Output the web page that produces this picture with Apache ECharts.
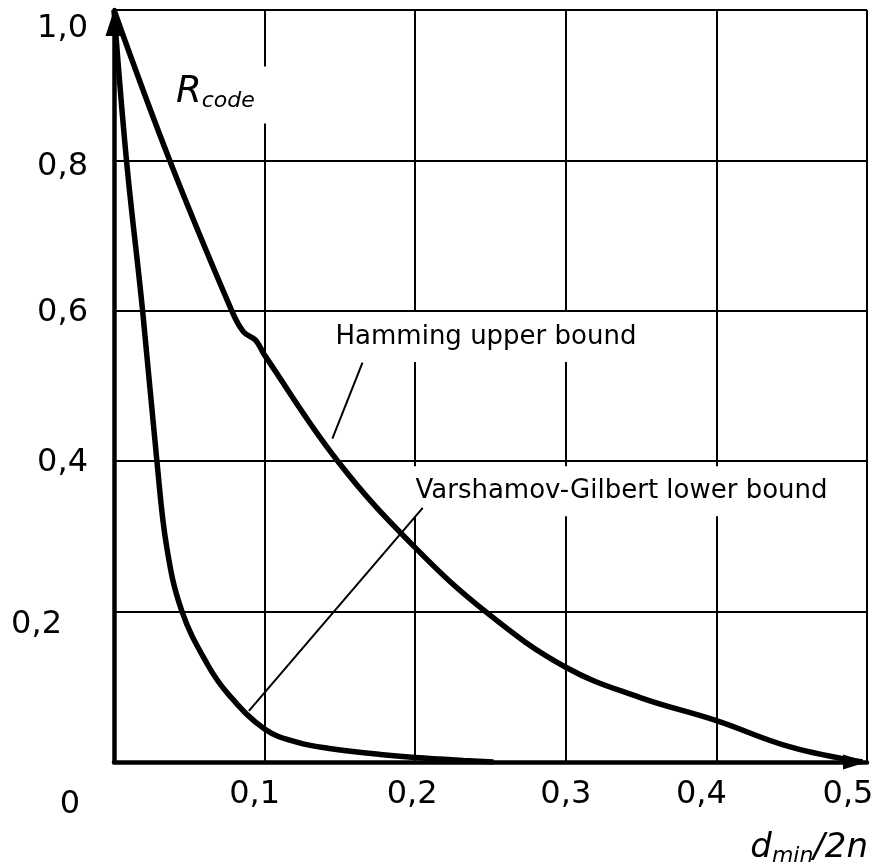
<!DOCTYPE html>
<html>
<head>
<meta charset="utf-8">
<title>Hamming and Varshamov-Gilbert bounds</title>
<script src="https://cdn.jsdelivr.net/npm/echarts@6.0.0/dist/echarts.min.js"></script>
<style>
  html, body { margin: 0; padding: 0; background: #fff; }
  #chart { width: 878px; height: 865px; }
</style>
</head>
<body>
<div id="chart"></div>
<script>
// tick labels, decimal comma as in the original figure
const xTickLabels = ['0', '0,1', '0,2', '0,3', '0,4', '0,5']
const yTickLabels = ['0', '0,2', '0,4', '0,6', '0,8', '1,0']

// Hamming upper bound
const hammingX = [0, 0.037, 0.078, 0.086, 0.094, 0.1, 0.149, 0.2, 0.248, 0.3, 0.349, 0.4, 0.449, 0.497]
const hammingY = [1.0, 0.8, 0.601, 0.572, 0.561, 0.541, 0.399, 0.285, 0.198, 0.126, 0.086, 0.055, 0.02, 0.0]

// Varshamov-Gilbert lower bound
const vgX = [0, 0.0083, 0.019, 0.0285, 0.035, 0.045, 0.062, 0.076, 0.1, 0.122, 0.143, 0.177, 0.2, 0.232, 0.252]
const vgY = [1.0, 0.8, 0.6, 0.4, 0.286, 0.201, 0.13, 0.09, 0.044, 0.026, 0.018, 0.01, 0.006, 0.002, 0.0]

// annotation texts and their leader lines (data coordinates)
const hammingText = 'Hamming upper bound'
const vgText = 'Varshamov-Gilbert lower bound'
const hammingTextAt = [0.247, 0.565]
const vgTextAt = [0.337, 0.36]
const hammingLeader = [[0.165, 0.531], [0.145, 0.43]]
const vgLeader = [[0.205, 0.338], [0.0896, 0.068]]

const zip = (xs, ys) => xs.map((x, i) => [x, ys[i]])

const FONT = 'DejaVu Sans'
const tick = { fontFamily: FONT, fontSize: 32, color: '#000' }

const chart = echarts.init(document.getElementById('chart'))

const option = {
    animation: false,
    grid: { left: 114, right: 11, top: 10, bottom: 103, outerBoundsMode: 'none' },
    xAxis: {
        type: 'value',
        min: 0,
        max: 0.5,
        interval: 0.1,
        axisLine: {
            show: true,
            onZero: false,
            lineStyle: { color: '#000', width: 4.5 },
            symbol: ['none', 'triangle'],
            symbolSize: [15, 24],
            symbolOffset: [0, -12]
        },
        axisTick: { show: false },
        splitLine: { show: true, showMinLine: false, showMaxLine: true, lineStyle: { color: '#000', width: 2 } },
        axisLabel: {
            margin: 17,
            ...tick,
            formatter: (v) => {
                const i = Math.round(v * 10)
                return i === 0 ? '' : `{x${i}|${xTickLabels[i]}}`
            },
            rich: {
                x1: { ...tick, padding: [0, 20, 0, 0] },
                x2: { ...tick, padding: [0, 6, 0, 0] },
                x3: { ...tick },
                x4: { ...tick, padding: [0, 30, 0, 0] },
                x5: { ...tick, padding: [0, 38, 0, 0] }
            }
        },
        name: '{d|d}{s|min}{d|/2n}',
        nameLocation: 'end',
        nameGap: 1,
        nameTextStyle: {
            align: 'right',
            verticalAlign: 'top',
            padding: [67, 0, 0, 0],
            rich: {
                d: { fontFamily: FONT, fontStyle: 'italic', fontSize: 34, color: '#000' },
                s: { fontFamily: FONT, fontStyle: 'italic', fontSize: 22, color: '#000', padding: [16, 0, 0, 0] }
            }
        }
    },
    yAxis: {
        type: 'value',
        min: 0,
        max: 1,
        interval: 0.2,
        axisLine: {
            show: true,
            onZero: false,
            lineStyle: { color: '#000', width: 4.5 },
            symbol: ['none', 'triangle'],
            symbolSize: [17, 26],
            symbolOffset: [0, -13]
        },
        axisTick: { show: false },
        splitLine: { show: true, showMinLine: false, showMaxLine: true, lineStyle: { color: '#000', width: 2 } },
        axisLabel: {
            margin: 26,
            ...tick,
            formatter: (v) => {
                const i = Math.round(v * 5)
                return `{y${i}|${yTickLabels[i]}}`
            },
            rich: {
                y0: { ...tick, padding: [86, 8, 0, 0] },
                y1: { ...tick, padding: [26, 26, 0, 0] },
                y2: { ...tick, padding: [2, 0, 0, 0] },
                y3: { ...tick, padding: [4, 0, 0, 0] },
                y4: { ...tick, padding: [12, 0, 0, 0] },
                y5: { ...tick, padding: [38, 0, 0, 0] }
            }
        },
        name: '{r|R}{s|code}',
        nameLocation: 'end',
        nameGap: -55.5,
        nameTextStyle: {
            align: 'left',
            verticalAlign: 'top',
            padding: [0, 0, 0, 51],
            rich: {
                r: { fontFamily: FONT, fontStyle: 'italic', fontSize: 37, color: '#000', backgroundColor: '#fff', padding: [8, 0, 14, 11] },
                s: { fontFamily: FONT, fontStyle: 'italic', fontSize: 22, color: '#000', backgroundColor: '#fff', padding: [23.5, 16, 11.5, 0] }
            }
        }
    },
    series: [
        {
            name: 'Hamming upper bound',
            type: 'line',
            data: zip(hammingX, hammingY),
            showSymbol: false,
            smooth: 0.4,
            lineStyle: { color: '#000', width: 5.5 },
            z: 3
        },
        {
            name: 'Varshamov-Gilbert lower bound',
            type: 'line',
            data: zip(vgX, vgY),
            showSymbol: false,
            smooth: 0.4,
            lineStyle: { color: '#000', width: 5.5 },
            z: 3
        },
        {
            type: 'scatter',
            symbolSize: 1,
            itemStyle: { color: 'rgba(0,0,0,0)', opacity: 1 },
            data: [
                { name: hammingText, value: hammingTextAt },
                { name: vgText, value: vgTextAt }
            ],
            label: {
                show: true,
                position: 'inside',
                formatter: '{b}',
                fontFamily: FONT,
                fontSize: 26,
                color: '#000',
                opacity: 1,
                backgroundColor: '#fff',
                padding: [12, 10]
            },
            z: 2
        },
        {
            type: 'line',
            data: hammingLeader,
            showSymbol: false,
            lineStyle: { color: '#000', width: 2 },
            z: 4
        },
        {
            type: 'line',
            data: vgLeader,
            showSymbol: false,
            lineStyle: { color: '#000', width: 2 },
            z: 4
        }
    ]
}

chart.setOption(option)
</script>
</body>
</html>
